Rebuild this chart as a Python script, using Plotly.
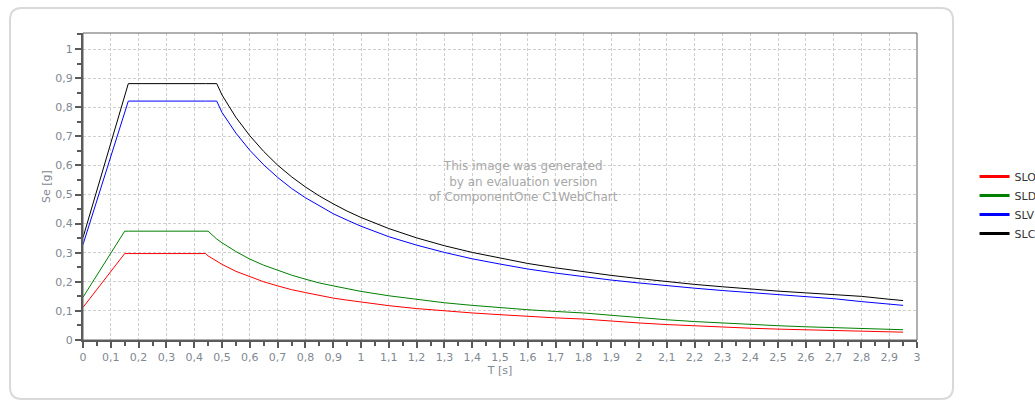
import plotly.graph_objects as go

# Period T [s]
periods = [0, 0.15, 0.163, 0.441, 0.45, 0.481, 0.5, 0.55, 0.6, 0.65, 0.7, 0.75, 0.8,
           0.85, 0.9, 0.95, 1.0, 1.1, 1.2, 1.3, 1.4, 1.5, 1.6, 1.7, 1.8, 1.9, 2.0,
           2.1, 2.2, 2.3, 2.4, 2.5, 2.6, 2.7, 2.8, 2.9, 2.95]

slo = [0.112, 0.297, 0.297, 0.297, 0.289, 0.270, 0.260, 0.236, 0.217, 0.200, 0.186, 0.173,
       0.163, 0.153, 0.144, 0.137, 0.130, 0.118, 0.108, 0.100, 0.093, 0.087, 0.081, 0.076,
       0.072, 0.0648, 0.0585, 0.0531, 0.0483, 0.0442, 0.0406, 0.0374, 0.0346, 0.0321,
       0.0298, 0.0278, 0.0269]

sld = [0.147, 0.374, 0.374, 0.374, 0.374, 0.347, 0.334, 0.304, 0.278, 0.257, 0.239, 0.223,
       0.209, 0.196, 0.186, 0.176, 0.167, 0.152, 0.139, 0.128, 0.119, 0.111, 0.104, 0.098,
       0.093, 0.0850, 0.0768, 0.0696, 0.0634, 0.0580, 0.0533, 0.0491, 0.0454, 0.0421,
       0.0392, 0.0365, 0.0353]

slv = [0.328, 0.782, 0.821, 0.821, 0.821, 0.821, 0.782, 0.711, 0.652, 0.602, 0.559, 0.521,
       0.489, 0.460, 0.434, 0.412, 0.391, 0.355, 0.326, 0.301, 0.279, 0.261, 0.244, 0.230,
       0.217, 0.206, 0.196, 0.186, 0.178, 0.170, 0.163, 0.156, 0.150, 0.142, 0.132, 0.123,
       0.119]

slc = [0.352, 0.839, 0.881, 0.881, 0.881, 0.881, 0.842, 0.765, 0.702, 0.648, 0.601, 0.561,
       0.526, 0.495, 0.468, 0.443, 0.421, 0.383, 0.351, 0.324, 0.301, 0.281, 0.263, 0.248,
       0.234, 0.222, 0.211, 0.200, 0.191, 0.183, 0.175, 0.168, 0.162, 0.156, 0.150, 0.140,
       0.1355]

series_names = ["SLO", "SLD", "SLV", "SLC"]
series_values = [slo, sld, slv, slc]
series_colors = ["#ff0000", "#008000", "#0000ff", "#000000"]

x_ticks = [round(i * 0.1, 1) for i in range(31)]
y_ticks = [round(i * 0.1, 1) for i in range(11)]

fig = go.Figure()
for name, vals, col in zip(series_names, series_values, series_colors):
    fig.add_trace(go.Scatter(x=periods, y=vals, mode="lines", name=name,
                             line=dict(color=col, width=1), showlegend=False,
                             legendgroup=name))
# legend entries (thicker swatches, no data)
for name, col in zip(series_names, series_colors):
    fig.add_trace(go.Scatter(x=[None], y=[None], mode="lines", name=name,
                             line=dict(color=col, width=3), legendgroup=name))

FONT = "DejaVu Sans, Verdana, sans-serif"
tick_font = dict(family=FONT, size=11, color="#7f8891")
W, H = 1035, 401
L, R, T, B = 83, 118, 33, 61

fig.update_layout(
    width=W, height=H,
    margin=dict(l=L, r=R, t=T, b=B, pad=0, autoexpand=False),
    paper_bgcolor="white", plot_bgcolor="white",
    separators=", ",
    font=dict(family=FONT, size=11, color="#7f8891"),
    xaxis=dict(range=[0, 3], tickvals=x_ticks, ticks="outside", ticklen=6, tickwidth=2,
               tickcolor="#5a5a5a", showline=True, linecolor="#5a5a5a", linewidth=2,
               showgrid=True, gridcolor="#cfcfcf", griddash="3px,2px", gridwidth=1,
               zeroline=False, tickfont=tick_font,
               title=dict(text="T [s]", font=tick_font, standoff=2),
               minor=dict(dtick=0.05, ticks="outside", ticklen=4, tickwidth=2,
                          tickcolor="#5a5a5a", showgrid=False)),
    yaxis=dict(range=[0, 1.055], tickvals=y_ticks, ticks="outside", ticklen=6, tickwidth=2,
               tickcolor="#5a5a5a", showline=True, linecolor="#5a5a5a", linewidth=2,
               showgrid=True, gridcolor="#cfcfcf", griddash="3px,2px", gridwidth=1,
               zeroline=False, tickfont=tick_font,
               title=dict(text="Se [g]", font=tick_font, standoff=2),
               minor=dict(dtick=0.05, ticks="outside", ticklen=4, tickwidth=2,
                          tickcolor="#5a5a5a", showgrid=False)),
    legend=dict(x=1.069, y=0.44, xanchor="left", yanchor="middle",
                font=dict(family=FONT, size=11, color="#333333"),
                itemwidth=30, bgcolor="rgba(0,0,0,0)", tracegroupgap=0),
)

# plot frame (top / right)
fig.add_shape(type="rect", xref="paper", yref="paper", x0=0, y0=0, x1=1, y1=1,
              line=dict(color="#606060", width=1), layer="above")

# rounded card border
pw, ph = W - L - R, H - T - B
def px(x): return (x - L) / pw
def py(y): return (H - B - y) / ph
x0, x1, y0, y1, r = 10, 953, 8, 399, 12
path = (f"M {px(x0 + r)},{py(y0)} L {px(x1 - r)},{py(y0)} "
        f"Q {px(x1)},{py(y0)} {px(x1)},{py(y0 + r)} "
        f"L {px(x1)},{py(y1 - r)} Q {px(x1)},{py(y1)} {px(x1 - r)},{py(y1)} "
        f"L {px(x0 + r)},{py(y1)} Q {px(x0)},{py(y1)} {px(x0)},{py(y1 - r)} "
        f"L {px(x0)},{py(y0 + r)} Q {px(x0)},{py(y0)} {px(x0 + r)},{py(y0)} Z")
fig.add_shape(type="path", xref="paper", yref="paper", path=path,
              line=dict(color="#d9d9d9", width=2), layer="below")

fig.add_annotation(text="This image was generated<br>by an evaluation version<br>of ComponentOne C1WebChart",
                   xref="paper", yref="paper", x=px(523), y=py(181), showarrow=False,
                   font=dict(family=FONT, size=12, color="#a8a8a8"),
                   align="center")

fig.write_html("out.html", config={"displayModeBar": False},
               post_script="document.body.style.margin='0';document.body.style.overflow='hidden';")
